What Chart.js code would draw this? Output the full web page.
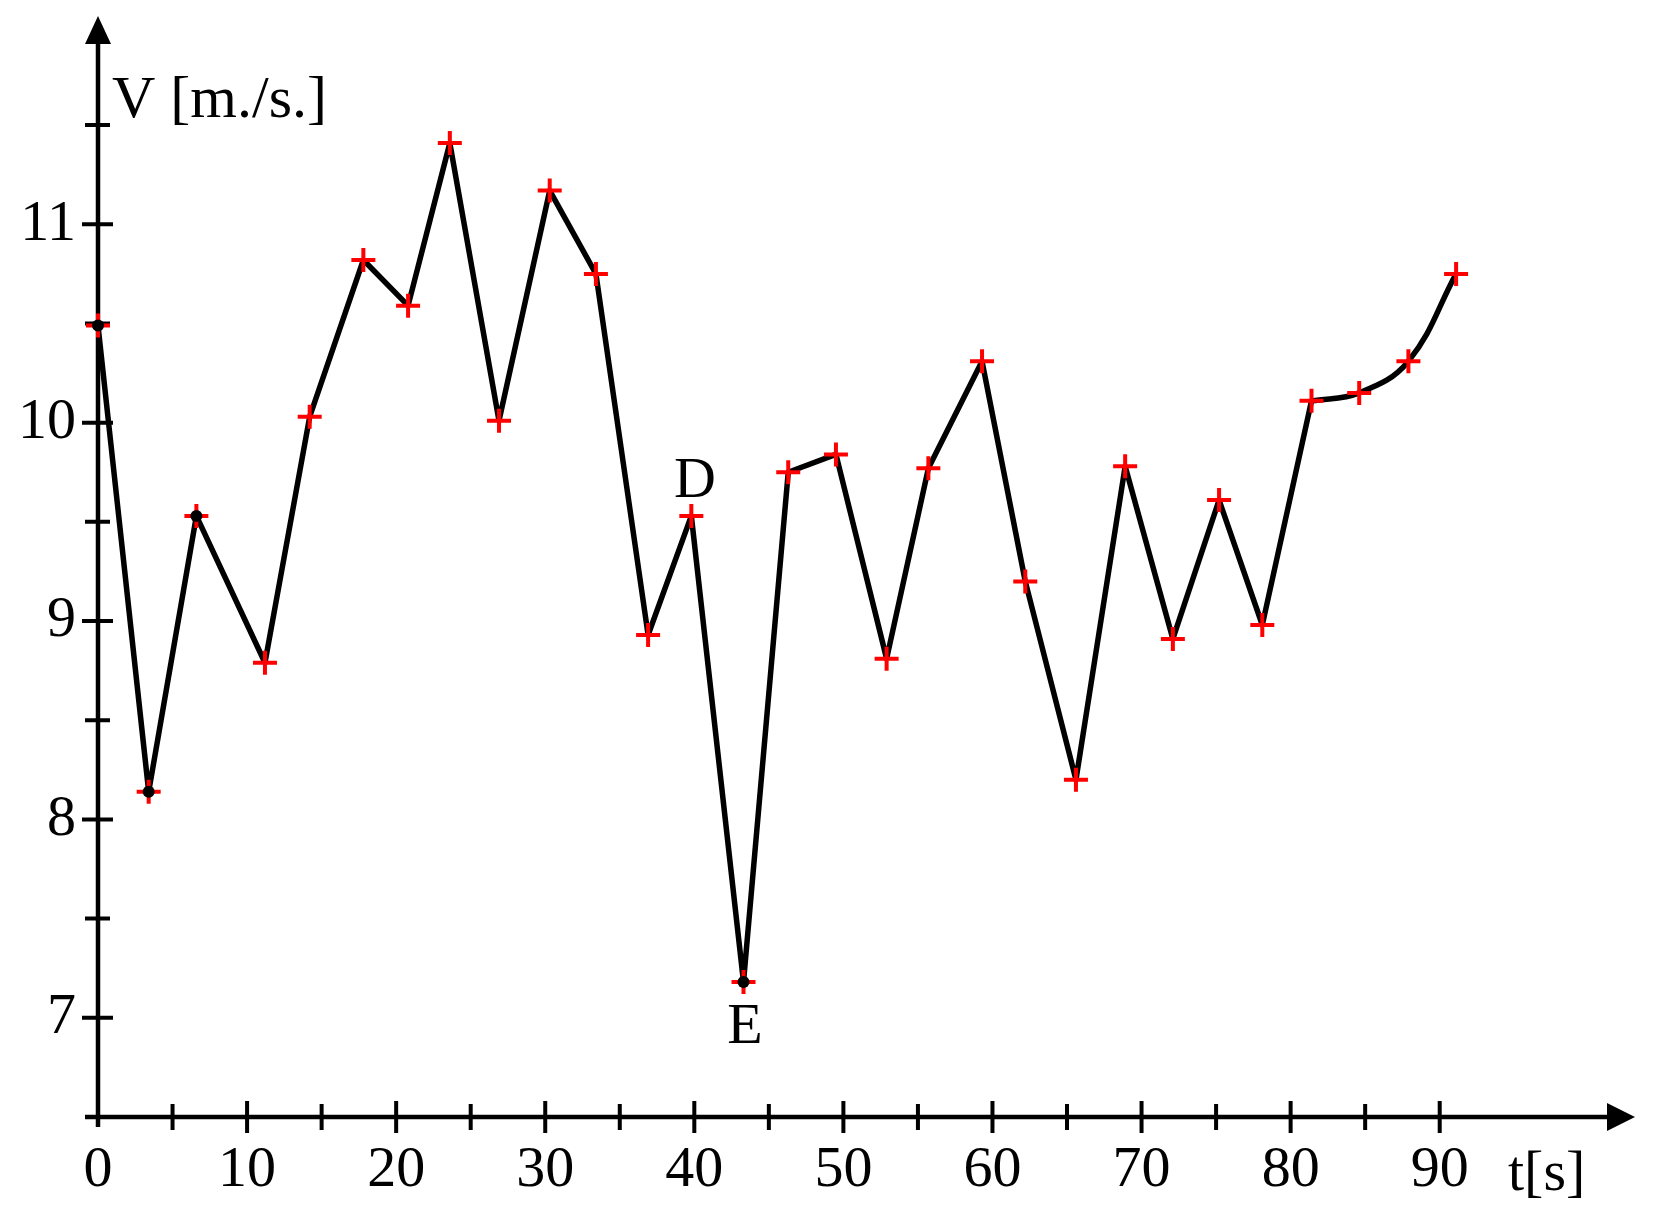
<!DOCTYPE html>
<html>
<head>
<meta charset="utf-8">
<script src="https://cdn.jsdelivr.net/npm/chart.js@4.4.1/dist/chart.umd.min.js"></script>
<style>
  html, body { margin: 0; padding: 0; background: #fff; }
  canvas { display: block; }
</style>
</head>
<body>
<canvas id="chart" width="1656" height="1222"></canvas>
<script>
// speed V [m/s] against time t [s], straight segments up to t = 81.4
const T_LINE = [0, 3.4, 6.6, 11.2, 14.2, 17.8, 20.8, 23.6, 26.9, 30.3, 33.4, 36.9, 39.8, 43.3,
  46.3, 49.5, 52.9, 55.7, 59.3, 62.2, 65.6, 68.9, 72.1, 75.2, 78.1, 81.4];
const V_LINE = [10.49, 8.14, 9.53, 8.79, 10.03, 10.82, 10.59, 11.41, 10.01, 11.17, 10.75, 8.93, 9.53, 7.18,
  9.75, 9.84, 8.81, 9.77, 10.31, 9.20, 8.20, 9.78, 8.91, 9.61, 8.98, 10.11];
// smooth tail
const T_CURVE = [81.4, 84.6, 87.9, 91.1];
const V_CURVE = [10.11, 10.15, 10.31, 10.75];
// black dots
const T_DOTS = [0, 3.4, 6.6, 43.3];
const V_DOTS = [10.49, 8.14, 9.53, 7.18];

const X_MAJOR = [0, 10, 20, 30, 40, 50, 60, 70, 80, 90];
const X_MINOR = [5, 15, 25, 35, 45, 55, 65, 75, 85];
const Y_MAJOR = [7, 8, 9, 10, 11];
const Y_MINOR = [7.5, 8.5, 9.5, 10.5, 11.5];

const POINT_NAMES = ['D', 'E'];
const POINT_T = [40.05, 43.4];
const POINT_V = [9.70, 6.95];

const X_MIN = 0, X_MAX = 103.1;
const Y_MIN = 6.5, Y_MAX = 12.05;

const FONT = '"Liberation Serif", "Times New Roman", serif';
const LINE_COLOR = '#000';
const CROSS_COLOR = '#ff0000';

const zip = (xs, ys) => xs.map((x, i) => ({ x, y: ys[i] }));
const crosses = zip(T_LINE, V_LINE).concat(zip(T_CURVE.slice(1), V_CURVE.slice(1)));

const axesPlugin = {
  id: 'axes',
  beforeDatasetsDraw(chart) {
    const { ctx, chartArea: a, scales: { x, y } } = chart;
    ctx.save();
    ctx.strokeStyle = '#000';
    ctx.fillStyle = '#000';
    ctx.lineWidth = 4.5;
    ctx.lineCap = 'butt';
    // axis lines
    ctx.beginPath();
    ctx.moveTo(a.left - 13, a.bottom);
    ctx.lineTo(a.right - 20, a.bottom);
    ctx.moveTo(a.left, a.bottom + 10);
    ctx.lineTo(a.left, a.top + 20);
    ctx.stroke();
    // arrow heads
    ctx.beginPath();
    ctx.moveTo(a.right, a.bottom);
    ctx.lineTo(a.right - 28, a.bottom - 14);
    ctx.lineTo(a.right - 28, a.bottom + 14);
    ctx.closePath();
    ctx.moveTo(a.left, a.top);
    ctx.lineTo(a.left - 13, a.top + 28);
    ctx.lineTo(a.left + 13, a.top + 28);
    ctx.closePath();
    ctx.fill();
    // tick marks
    ctx.lineWidth = 4;
    ctx.beginPath();
    X_MAJOR.forEach((v) => {
      if (v === X_MIN) return;
      const px = x.getPixelForValue(v);
      ctx.moveTo(px, a.bottom - 16);
      ctx.lineTo(px, a.bottom + 16);
    });
    X_MINOR.forEach((v) => {
      const px = x.getPixelForValue(v);
      ctx.moveTo(px, a.bottom - 13);
      ctx.lineTo(px, a.bottom + 13);
    });
    Y_MAJOR.forEach((v) => {
      const py = y.getPixelForValue(v);
      ctx.moveTo(a.left - 16, py);
      ctx.lineTo(a.left + 15, py);
    });
    Y_MINOR.forEach((v) => {
      const py = y.getPixelForValue(v);
      ctx.moveTo(a.left - 13, py);
      ctx.lineTo(a.left + 12, py);
    });
    ctx.stroke();
    ctx.restore();
  },
  afterDraw(chart) {
    const { ctx, chartArea: a, scales: { x, y } } = chart;
    ctx.save();
    ctx.fillStyle = '#000';
    ctx.font = `60px ${FONT}`;
    ctx.textAlign = 'left';
    ctx.textBaseline = 'alphabetic';
    ctx.fillText('V [m./s.]', a.left + 14, a.top + 101);
    ctx.font = `58px ${FONT}`;
    ctx.fillText('t[s]', a.right - 127, a.bottom + 73);
    ctx.textAlign = 'center';
    ctx.textBaseline = 'middle';
    POINT_NAMES.forEach((name, i) => {
      ctx.fillText(name, x.getPixelForValue(POINT_T[i]), y.getPixelForValue(POINT_V[i]));
    });
    ctx.restore();
  },
};

new Chart(document.getElementById('chart'), {
  type: 'scatter',
  data: {
    datasets: [
      {
        label: 'dots',
        data: zip(T_DOTS, V_DOTS),
        pointStyle: 'circle',
        pointRadius: 6,
        backgroundColor: LINE_COLOR,
        borderWidth: 0,
        clip: false,
      },
      {
        label: 'measured',
        data: crosses,
        pointStyle: 'cross',
        pointRadius: 12,
        borderColor: CROSS_COLOR,
        borderWidth: 4,
        clip: false,
      },
      {
        type: 'line',
        label: 'V',
        data: zip(T_LINE, V_LINE),
        borderColor: LINE_COLOR,
        borderWidth: 5.5,
        pointRadius: 0,
        tension: 0,
        borderJoinStyle: 'round',
        clip: false,
      },
      {
        type: 'line',
        label: 'V tail',
        data: zip(T_CURVE, V_CURVE),
        borderColor: LINE_COLOR,
        borderWidth: 5.5,
        pointRadius: 0,
        tension: 0.4,
        clip: false,
      },
    ],
  },
  options: {
    responsive: false,
    animation: false,
    events: [],
    layout: { padding: { top: 16, right: 21, left: 0, bottom: 0 } },
    plugins: { legend: { display: false }, tooltip: { enabled: false } },
    scales: {
      x: {
        type: 'linear',
        min: X_MIN,
        max: X_MAX,
        grid: { display: false, drawTicks: false },
        border: { display: false },
        afterBuildTicks: (s) => { s.ticks = X_MAJOR.map((value) => ({ value })); },
        afterFit: (s) => { s.height = 105; s.paddingLeft = 0; s.paddingRight = 0; },
        ticks: { color: '#000', padding: 19, maxRotation: 0, autoSkip: false, font: { family: FONT, size: 58 } },
      },
      y: {
        type: 'linear',
        min: Y_MIN,
        max: Y_MAX,
        grid: { display: false, drawTicks: false },
        border: { display: false },
        afterBuildTicks: (s) => { s.ticks = Y_MAJOR.map((value) => ({ value })); },
        afterFit: (s) => { s.width = 98; s.paddingTop = 0; s.paddingBottom = 0; },
        ticks: { color: '#000', padding: 22, autoSkip: false, font: { family: FONT, size: 58 } },
      },
    },
  },
  plugins: [axesPlugin],
});
</script>
</body>
</html>
